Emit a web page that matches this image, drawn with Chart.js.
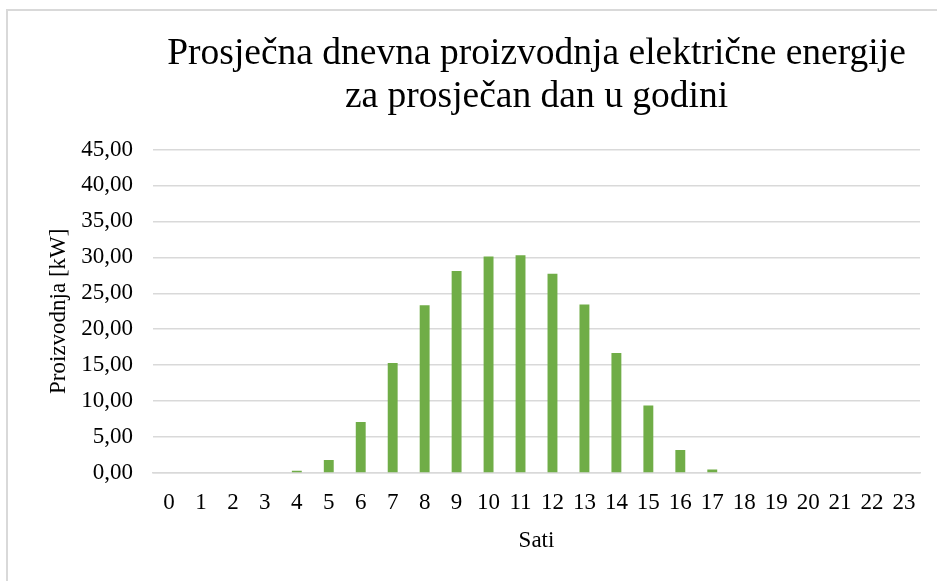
<!DOCTYPE html>
<html>
<head>
<meta charset="utf-8">
<script src="https://cdn.jsdelivr.net/npm/chart.js@4/dist/chart.umd.min.js"></script>
<style>
  body { margin: 0; background: #fff; }
  #wrap { width: 937px; height: 581px; position: relative; }
</style>
</head>
<body>
<div id="wrap"><canvas id="_canvasc" width="937" height="581"></canvas></div>
<script>
// hours of the day
var sati = ["0","1","2","3","4","5","6","7","8","9","10","11","12","13","14","15","16","17","18","19","20","21","22","23"];
// average production [kW]
var proizvodnja = [0, 0, 0, 0, 0.3, 1.8, 7.1, 15.3, 23.35, 28.1, 30.1, 30.3, 27.7, 23.45, 16.7, 9.4, 3.2, 0.5, 0, 0, 0, 0, 0, 0];
var naslov = ["Prosječna dnevna proizvodnja električne energije", "za prosječan dan u godini"];
var yMax = 45, yStep = 5;

var serif = "'Liberation Serif', 'Times New Roman', serif";
var grid = "#d9d9d9";

// light frame of the excel chart area
var okvir = {
    id: 'okvir',
    beforeDraw: function(chart) {
        var c = chart.ctx;
        c.save();
        c.fillStyle = "#fff";
        c.fillRect(0, 0, chart.width, chart.height);
        c.strokeStyle = grid;
        c.lineWidth = 2;
        c.beginPath();
        c.moveTo(7, chart.height);
        c.lineTo(7, 10);
        c.lineTo(chart.width, 10);
        c.stroke();
        c.restore();
    }
};

var config = {
    type: 'bar',
    data: {
        labels: sati,
        datasets: [{
            label: "Proizvodnja",
            data: proizvodnja,
            backgroundColor: "#70ad47",
            barPercentage: 0.62,
            categoryPercentage: 0.5
        }]
    },
    options: {
        responsive: false,
        animation: false,
        layout: { padding: { left: 8, right: 17, top: 12, bottom: 0 } },
        plugins: {
            legend: { display: false },
            tooltip: { enabled: false },
            title: {
                display: true,
                fullSize: false,
                text: naslov,
                color: "#000",
                font: { family: serif, size: 37.5, weight: 'normal', lineHeight: 1.14 },
                padding: { top: 21, bottom: 31 }
            }
        },
        scales: {
            x: {
                grid: { display: false, drawTicks: false },
                border: { color: grid, width: 1.5 },
                ticks: { color: "#000", font: { family: serif, size: 23 }, padding: 16, maxRotation: 0, autoSkip: false },
                title: { display: true, text: "Sati", color: "#000", font: { family: serif, size: 23 }, padding: { top: 0, bottom: 26 } },
                afterFit: function(s) { s.height = 108; }
            },
            y: {
                min: 0,
                max: yMax,
                grid: { color: grid, lineWidth: 1.5, drawTicks: false },
                border: { display: false },
                ticks: {
                    stepSize: yStep,
                    color: "#000",
                    font: { family: serif, size: 23 },
                    padding: 20,
                    callback: function(v) { return v.toFixed(2).replace('.', ','); }
                },
                title: { display: true, text: "Proizvodnja [kW]", color: "#000", font: { family: serif, size: 23 }, padding: { top: 37, bottom: 0 } },
                afterFit: function(s) { s.width = 145; }
            }
        }
    },
    plugins: [okvir]
};

window.myBar = new Chart(document.getElementById("_canvasc"), config);
</script>
</body>
</html>
